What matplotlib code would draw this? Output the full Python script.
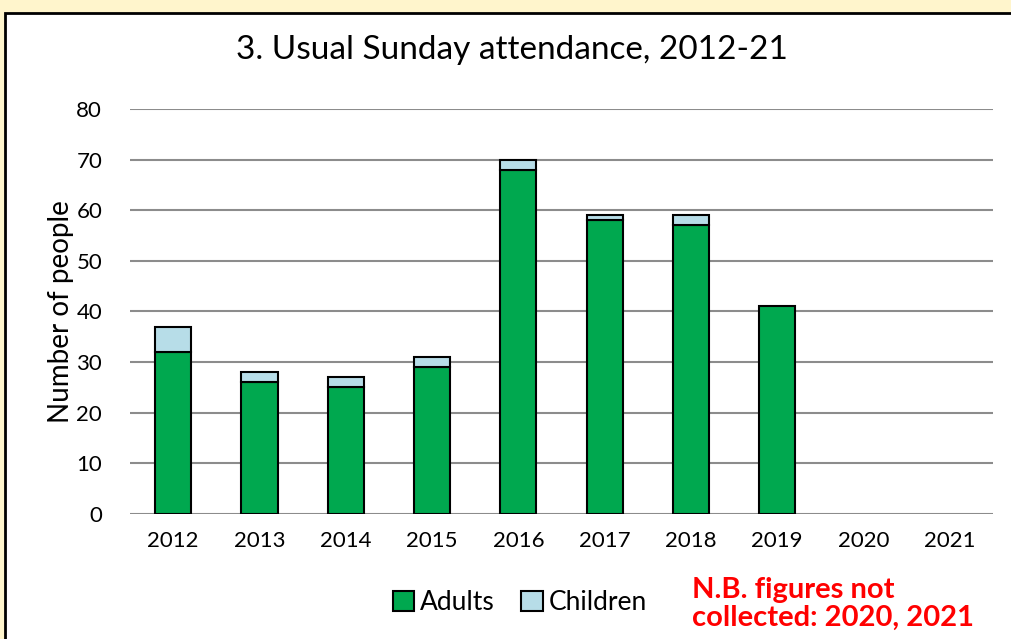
import matplotlib.pyplot as plt
import numpy as np
from matplotlib.patches import Rectangle

years = ['2012', '2013', '2014', '2015', '2016', '2017', '2018', '2019', '2020', '2021']
adults = [32, 26, 25, 29, 68, 58, 57, 41, 0, 0]
children = [5, 2, 2, 2, 2, 1, 2, 0, 0, 0]

plt.rcParams['font.family'] = ['Lato', 'DejaVu Sans']

fig = plt.figure(figsize=(10.12, 6.39), dpi=100)
fig.patch.set_facecolor('#fff5cc')
# white panel with dark border
panel = Rectangle((5 / 1012, -0.01), 1.02, 1 - 13 / 639 + 0.01,
                  transform=fig.transFigure, facecolor='white',
                  edgecolor='black', linewidth=2, zorder=-5)
fig.add_artist(panel)

ax = fig.add_axes([130 / 1012, 1 - 514 / 639, 863 / 1012, 405 / 639])
ax.set_facecolor('none')
x = np.arange(len(years))
# no outline on empty bars (2020, 2021)
lw_a = [1.5 if v else 0 for v in adults]
lw_c = [1.5 if v else 0 for v in children]
ax.bar(x, adults, width=0.42, color='#00a84f', edgecolor='black', linewidth=lw_a,
       label='Adults', zorder=3)
ax.bar(x, children, width=0.42, bottom=adults, color='#b7dde8', edgecolor='black',
       linewidth=lw_c, label='Children', zorder=3)

ax.set_xlim(-0.5, len(years) - 0.5)
ax.set_ylim(0, 80)
ax.set_yticks(range(0, 81, 10))
ax.set_xticks(x)
ax.set_xticklabels(years)
ax.yaxis.grid(True, color='#8c8c8c', linewidth=1.5, zorder=0)
ax.set_axisbelow(True)
for s in ax.spines.values():
    s.set_visible(False)
ax.tick_params(length=0, labelsize=16, pad=12)
ax.tick_params(axis='y', pad=20)
ax.set_ylabel('Number of people', fontsize=20, labelpad=2)

fig.text(512 / 1012, 1 - 50 / 639, '3. Usual Sunday attendance, 2012-21',
         ha='center', va='center', fontsize=24)

leg = ax.legend(loc='center', bbox_to_anchor=(520 / 1012, 1 - 603 / 639),
                bbox_transform=fig.transFigure, ncol=2, frameon=False, fontsize=19,
                handlelength=0.8, handleheight=0.8, handletextpad=0.25,
                columnspacing=1.0)
for h in leg.legend_handles:
    h.set_linewidth(1.5)
    h.set_edgecolor('black')

fig.text(692 / 1012, 1 - 604 / 639, 'N.B. figures not\ncollected: 2020, 2021',
         ha='left', va='center', fontsize=21, color='red', fontweight='bold',
         linespacing=1.05)

fig.savefig('out.png', dpi=100, facecolor=fig.get_facecolor())
